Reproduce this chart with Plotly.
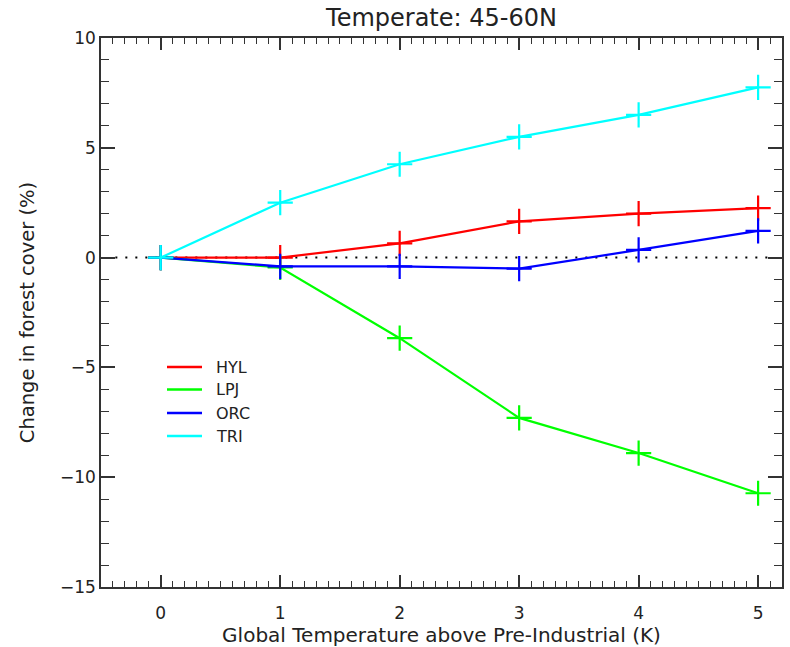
import plotly.graph_objects as go

temps = [0, 1, 2, 3, 4, 5]
models = ["HYL", "LPJ", "ORC", "TRI"]
colors = ["#ff0000", "#00ff00", "#0000ff", "#00ffff"]
hyl = [0.0, 0.0, 0.65, 1.65, 2.0, 2.25]
lpj = [0.0, -0.45, -3.67, -7.3, -8.9, -10.73]
orc = [0.0, -0.4, -0.4, -0.5, 0.35, 1.22]
tri = [0.0, 2.5, 4.25, 5.5, 6.5, 7.75]
series = [hyl, lpj, orc, tri]

FONT = "DejaVu Sans"
TXT = "#222222"

fig = go.Figure()
# zero reference line
fig.add_trace(go.Scatter(x=[-0.38, 5.1], y=[0, 0], mode="lines",
                         line=dict(color="black", width=2, dash="2px,8px"),
                         showlegend=False, hoverinfo="skip"))
for name, col, vals in zip(models, colors, series):
    fig.add_trace(go.Scatter(x=temps, y=vals, mode="lines+markers", name=name,
                             line=dict(color=col, width=2.2),
                             marker=dict(symbol="cross-thin", size=18,
                                         line=dict(color=col, width=2.2)),
                             showlegend=False))

# manual legend (shapes + text, in plot-area paper coordinates)
legend_y = [367, 389.5, 413, 436]
for name, col, ypix in zip(models, colors, legend_y):
    yp = (587 - ypix) / 549
    fig.add_shape(type="line", xref="paper", yref="paper",
                  x0=(167 - 101) / 681, x1=(202 - 101) / 681, y0=yp, y1=yp,
                  line=dict(color=col, width=2.5))
    fig.add_annotation(x=(214 - 101) / 681, y=yp,
                       xref="paper", yref="paper", text=name, showarrow=False,
                       xanchor="left", yanchor="middle",
                       font=dict(family=FONT, size=16, color=TXT))

axis_common = dict(showline=True, linecolor="#333333", linewidth=1.5,
                   mirror="ticks", ticks="inside", tickcolor="#333333",
                   tickwidth=1.5, showgrid=False, zeroline=False,
                   automargin=False,
                   tickfont=dict(family=FONT, size=17, color=TXT))

fig.update_xaxes(range=[-0.5, 5.2], tickmode="array", tickvals=temps,
                 ticklen=12, ticklabelstandoff=10,
                 minor=dict(dtick=0.1, tick0=0, ticks="inside", ticklen=6,
                            tickcolor="#333333", tickwidth=1.2, showgrid=False),
                 title=dict(text="Global Temperature above Pre-Industrial (K)",
                            font=dict(family=FONT, size=20, color=TXT), standoff=3),
                 **axis_common)
fig.update_yaxes(range=[-15, 10], tickmode="linear", tick0=0, dtick=5,
                 ticklen=14,
                 minor=dict(dtick=1, tick0=0, ticks="inside", ticklen=8,
                            tickcolor="#333333", tickwidth=1.2, showgrid=False),
                 title=dict(text="Change in forest cover (%)",
                            font=dict(family=FONT, size=19.5, color=TXT), standoff=20),
                 **axis_common)

fig.update_layout(width=790, height=647,
                  margin=dict(l=101, r=8, t=38, b=60),
                  plot_bgcolor="white", paper_bgcolor="white",
                  title=dict(text="Temperate: 45-60N", xref="paper", x=0.5,
                             xanchor="center",
                             y=1 - 18 / 647, yanchor="middle",
                             font=dict(family=FONT, size=24, color=TXT)),
                  showlegend=False)

fig.write_html("out.html")
